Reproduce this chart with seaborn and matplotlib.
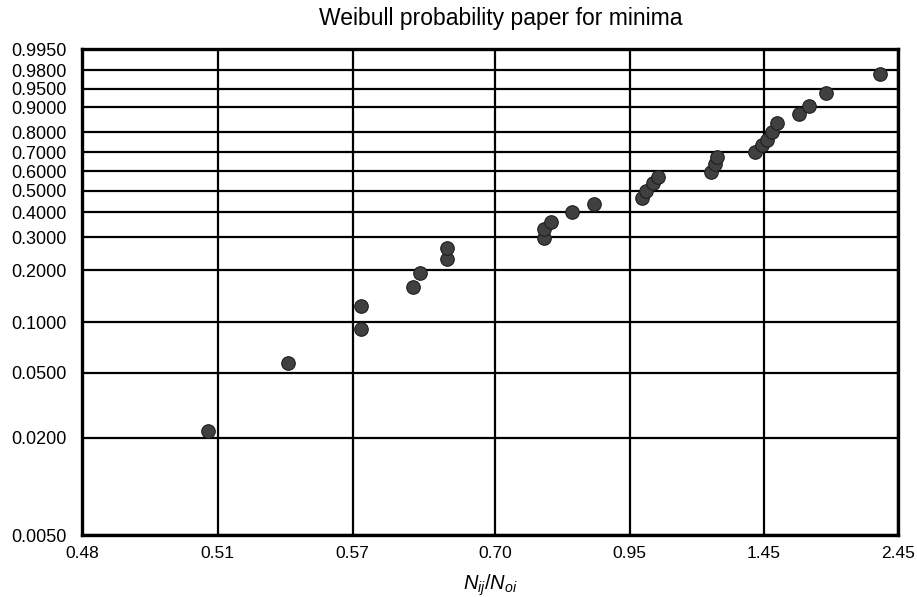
import numpy as np
import pandas as pd
import matplotlib
matplotlib.use("Agg")
import matplotlib.pyplot as plt
import seaborn as sns

# Data: N_ij/N_oi and cumulative probability
ratio = [0.507, 0.536, 0.575, 0.575, 0.614, 0.620, 0.645, 0.645,
         0.772, 0.772, 0.784, 0.821, 0.867,
         0.982, 0.994, 1.013, 1.029,
         1.213, 1.226, 1.237,
         1.408, 1.443, 1.468, 1.495, 1.521,
         1.647, 1.710, 1.830, 2.272]
prob = [0.022, 0.057, 0.092, 0.125, 0.161, 0.193, 0.229, 0.263,
        0.297, 0.330, 0.360, 0.402, 0.437,
        0.464, 0.501, 0.539, 0.572,
        0.599, 0.639, 0.676,
        0.704, 0.738, 0.765, 0.803, 0.839,
        0.876, 0.904, 0.941, 0.976]

x_ticks = [0.48, 0.51, 0.57, 0.70, 0.95, 1.45, 2.45]
x_tick_labels = ["0.48", "0.51", "0.57", "0.70", "0.95", "1.45", "2.45"]
y_ticks = [0.005, 0.02, 0.05, 0.10, 0.20, 0.30, 0.40, 0.50, 0.60, 0.70,
           0.80, 0.90, 0.95, 0.98, 0.995]
y_tick_labels = ["0.0050", "0.0200", "0.0500", "0.1000", "0.2000", "0.3000",
                 "0.4000", "0.5000", "0.6000", "0.7000", "0.8000", "0.9000",
                 "0.9500", "0.9800", "0.9950"]

df = pd.DataFrame({"ratio": ratio, "prob": prob})

sns.set_style("white")
plt.rcParams["font.family"] = ["Liberation Sans", "DejaVu Sans"]
plt.rcParams["mathtext.fontset"] = "custom"
plt.rcParams["mathtext.it"] = "Liberation Sans:italic"
plt.rcParams["mathtext.rm"] = "Liberation Sans"
plt.rcParams["text.color"] = "black"
plt.rcParams["axes.labelcolor"] = "black"

LOC = 0.4505


def xf(x):
    x = np.asarray(x, dtype=float)
    return np.log(np.clip(x - LOC, 1e-9, None))


def xi(t):
    return np.exp(np.asarray(t, dtype=float)) + LOC


def yf(p):
    p = np.clip(np.asarray(p, dtype=float), 1e-9, 1 - 1e-12)
    return np.log(-np.log(1 - p))


def yi(t):
    return 1 - np.exp(-np.exp(np.asarray(t, dtype=float)))


fig = plt.figure(figsize=(9.17, 5.97), dpi=100)
ax = fig.add_axes([82 / 917, 1 - 535 / 597, (898 - 82) / 917, (535 - 49) / 597])
ax.set_xscale("function", functions=(xf, xi))
ax.set_yscale("function", functions=(yf, yi))

sns.scatterplot(data=df, x="ratio", y="prob", ax=ax, s=95, color="#404040",
                edgecolor="#1e1e1e", linewidth=0.8, zorder=3, legend=False)

ax.set_xlim(0.48, 2.45)
ax.set_ylim(0.005, 0.995)
ax.set_xticks(x_ticks)
ax.set_xticklabels(x_tick_labels, fontsize=12.5)
ax.set_yticks(y_ticks)
ax.set_yticklabels(y_tick_labels, fontsize=13)
ax.minorticks_off()
ax.tick_params(axis="y", length=0, pad=11, colors="black")
ax.tick_params(axis="x", length=0, pad=8, colors="black")
ax.grid(True, color="black", linewidth=1.6, zorder=1)
ax.set_axisbelow(True)
for sp in ax.spines.values():
    sp.set_visible(True)
    sp.set_color("black")
    sp.set_linewidth(2.4)

ax.set_xlabel(r"$N_{ij}/N_{oi}$", fontsize=14.5, labelpad=8, color="black")
ax.set_ylabel("")
fig.text(501 / 917, 1 - 19 / 597, "Weibull probability paper for minima",
         ha="center", va="center", fontsize=16.5, color="black")

fig.savefig("out.png", dpi=100)
